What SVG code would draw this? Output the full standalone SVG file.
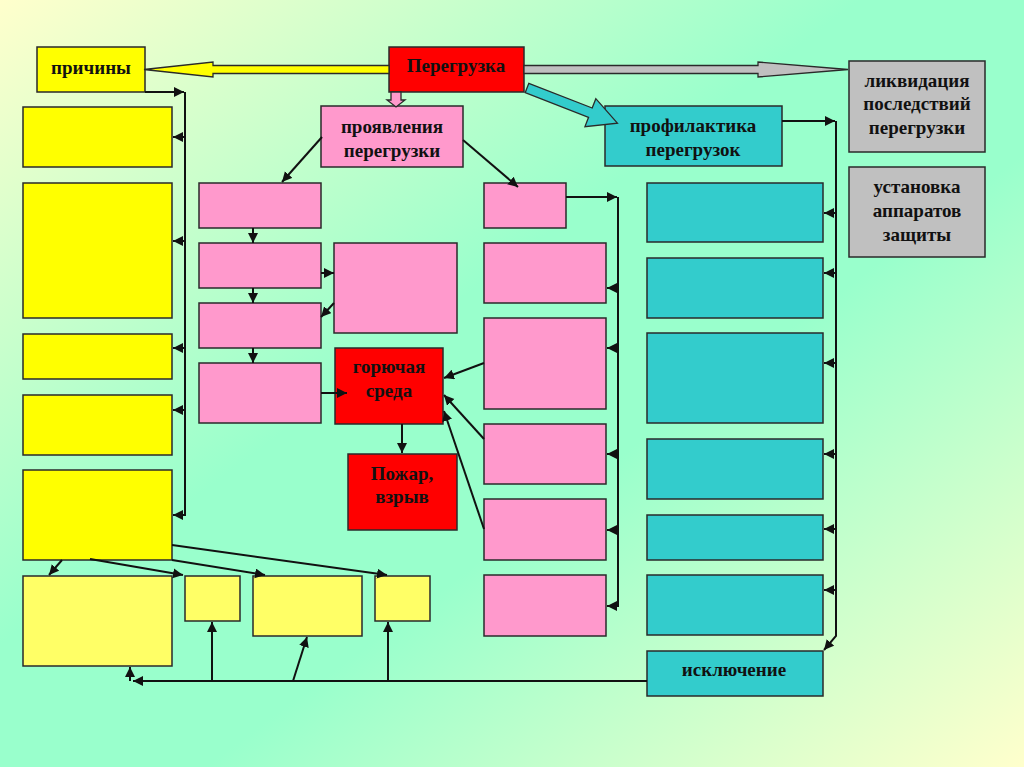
<svg xmlns="http://www.w3.org/2000/svg" width="1024" height="767" viewBox="0 0 1024 767">
<defs>
<linearGradient id="bg" x1="0" y1="0" x2="1" y2="1">
<stop offset="0" stop-color="#ffffcc"/>
<stop offset="0.42" stop-color="#99ffcc"/>
<stop offset="0.6" stop-color="#99ffcc"/>
<stop offset="1" stop-color="#ffffcc"/>
</linearGradient>
<marker id="ah" markerUnits="userSpaceOnUse" markerWidth="12" markerHeight="12" refX="10" refY="5" orient="auto">
<path d="M0,0 L10,5 L0,10 Z" fill="#111"/>
</marker>
<style>
.box{stroke:#2a2a2a;stroke-width:1.5}
.y{fill:#ffff00}
.ly{fill:#ffff66}
.p{fill:#ff99cc}
.r{fill:#ff0000}
.t{fill:#33cccc}
.g{fill:#c0c0c0}
.lbl{font-family:"Liberation Serif","Times New Roman",serif;font-weight:bold;font-size:19px;fill:#111;text-anchor:middle}
.c{fill:none;stroke:#111;stroke-width:2}
.c path{marker-end:url(#ah)}
.blk{stroke:#2a2a2a;stroke-width:1.3}
</style>
</defs>
<rect width="1024" height="767" fill="url(#bg)"/>

<g id="prichiny"><rect class="box y" x="37" y="47" width="108" height="45"/><text class="lbl" x="91" y="74">причины</text></g>
<g id="peregruzka"><rect class="box r" x="389" y="47" width="135" height="45"/><text class="lbl" x="456" y="72">Перегрузка</text></g>
<g id="proyavleniya"><rect class="box p" x="321" y="106" width="142" height="61"/><text class="lbl" x="392" y="133">проявления</text><text class="lbl" x="392" y="157">перегрузки</text></g>
<g id="profilaktika"><rect class="box t" x="605" y="106" width="177" height="60"/><text class="lbl" x="693" y="132">профилактика</text><text class="lbl" x="693" y="156">перегрузок</text></g>
<g id="likvidaciya"><rect class="box g" x="849" y="61" width="136" height="91"/><text class="lbl" x="917" y="87">ликвидация</text><text class="lbl" x="917" y="110">последствий</text><text class="lbl" x="917" y="134">перегрузки</text></g>
<g id="ustanovka"><rect class="box g" x="849" y="167" width="136" height="90"/><text class="lbl" x="917" y="193">установка</text><text class="lbl" x="917" y="217">аппаратов</text><text class="lbl" x="917" y="241">защиты</text></g>

<g id="y1"><rect class="box y" x="23" y="107" width="149" height="60"/></g>
<g id="y2"><rect class="box y" x="23" y="183" width="149" height="135"/></g>
<g id="y3"><rect class="box y" x="23" y="334" width="149" height="45"/></g>
<g id="y4"><rect class="box y" x="23" y="395" width="149" height="60"/></g>
<g id="y5"><rect class="box y" x="23" y="470" width="149" height="90"/></g>
<g id="b1"><rect class="box ly" x="23" y="576" width="149" height="90"/></g>
<g id="b2"><rect class="box ly" x="185" y="576" width="55" height="45"/></g>
<g id="b3"><rect class="box ly" x="253" y="576" width="109" height="60"/></g>
<g id="b4"><rect class="box ly" x="375" y="576" width="55" height="45"/></g>

<g id="p1"><rect class="box p" x="199" y="183" width="122" height="45"/></g>
<g id="p2"><rect class="box p" x="199" y="243" width="122" height="45"/></g>
<g id="p3"><rect class="box p" x="199" y="303" width="122" height="45"/></g>
<g id="p4"><rect class="box p" x="199" y="363" width="122" height="60"/></g>
<g id="pm"><rect class="box p" x="334" y="243" width="123" height="90"/></g>
<g id="goryuchaya"><rect class="box r" x="335" y="348" width="108" height="76"/><text class="lbl" x="389" y="373">горючая</text><text class="lbl" x="389" y="397">среда</text></g>
<g id="pozhar"><rect class="box r" x="348" y="454" width="109" height="76"/><text class="lbl" x="402" y="480">Пожар,</text><text class="lbl" x="402" y="503">взрыв</text></g>

<g id="r1"><rect class="box p" x="484" y="183" width="82" height="45"/></g>
<g id="r2"><rect class="box p" x="484" y="243" width="122" height="60"/></g>
<g id="r3"><rect class="box p" x="484" y="318" width="122" height="91"/></g>
<g id="r4"><rect class="box p" x="484" y="424" width="122" height="60"/></g>
<g id="r5"><rect class="box p" x="484" y="499" width="122" height="61"/></g>
<g id="r6"><rect class="box p" x="484" y="575" width="122" height="61"/></g>

<g id="t1"><rect class="box t" x="647" y="183" width="176" height="59"/></g>
<g id="t2"><rect class="box t" x="647" y="258" width="176" height="60"/></g>
<g id="t3"><rect class="box t" x="647" y="333" width="176" height="90"/></g>
<g id="t4"><rect class="box t" x="647" y="439" width="176" height="60"/></g>
<g id="t5"><rect class="box t" x="647" y="515" width="176" height="45"/></g>
<g id="t6"><rect class="box t" x="647" y="575" width="176" height="60"/></g>
<g id="isklyuchenie"><rect class="box t" x="647" y="651" width="176" height="45"/><text class="lbl" x="734" y="676">исключение</text></g>

<g id="connectors">
<polygon class="blk" fill="#ffff00" points="389,65.5 213,65.5 213,62 144,69.5 213,77 213,73.5 389,73.5"/>
<polygon class="blk" fill="#c0c0c0" points="524,65.5 758,65.5 758,62 848,69.5 758,77 758,73.5 524,73.5"/>
<polygon class="blk" fill="#ff99cc" points="391,92 401,92 401,100 405,100 396,107 387,100 391,100"/>
<polygon class="blk" fill="#33cccc" transform="translate(527,88) rotate(21.25)" points="0,-5 68,-5 68,-15 97,0 68,15 68,5 0,5"/>
<g class="c">
<path d="M145,92 H184"/>
<path d="M185,92 V515 H173"/>
<path d="M185,137 H173"/>
<path d="M185,241 H173"/>
<path d="M185,348 H173"/>
<path d="M185,410 H173"/>
<path d="M62,560 L49,575"/>
<path d="M90,559 L183,575"/>
<path d="M172,560 L265,575"/>
<path d="M172,545 L387,575"/>
<path d="M647,681 H133"/>
<path d="M130,681 V667"/>
<path d="M212,681 V622"/>
<path d="M388,681 V622"/>
<path d="M293,681 L307,637"/>
<path d="M322,137 L282,182"/>
<path d="M463,140 L518,187"/>
<path d="M253,228 V243"/>
<path d="M253,288 V303"/>
<path d="M253,348 V363"/>
<path d="M321,273 H334"/>
<path d="M334,303 L321,317"/>
<path d="M321,393 H347"/>
<path d="M484,363 L444,378"/>
<path d="M484,439 L444,395"/>
<path d="M484,529 L444,411"/>
<path d="M402,424 V453"/>
<path d="M566,197 H617"/>
<path d="M618,197 V606 H607"/>
<path d="M618,288 H607"/>
<path d="M618,348 H607"/>
<path d="M618,454 H607"/>
<path d="M618,530 H607"/>
<path d="M782,121 H835"/>
<path d="M836,121 V636 L824,650"/>
<path d="M836,213 H824"/>
<path d="M836,273 H824"/>
<path d="M836,363 H824"/>
<path d="M836,454 H824"/>
<path d="M836,529 H824"/>
<path d="M836,590 H824"/>
</g>
</g>
</svg>
